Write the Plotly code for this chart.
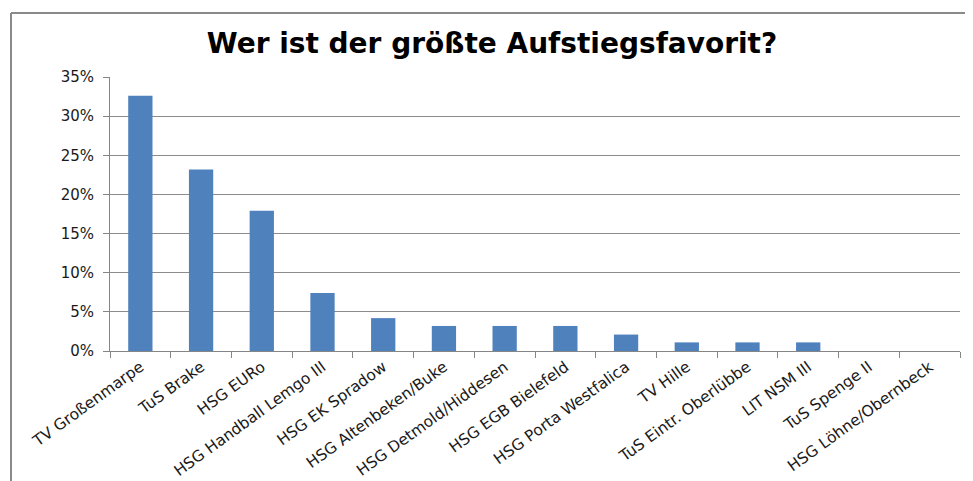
import plotly.graph_objects as go

categories = ["TV Großenmarpe", "TuS Brake", "HSG EURo", "HSG Handball Lemgo III",
              "HSG EK Spradow", "HSG Altenbeken/Buke", "HSG Detmold/Hiddesen",
              "HSG EGB Bielefeld", "HSG Porta Westfalica", "TV Hille",
              "TuS Eintr. Oberlübbe", "LIT NSM III", "TuS Spenge II", "HSG Löhne/Obernbeck"]
values = [0.326, 0.232, 0.179, 0.074, 0.042, 0.032, 0.032, 0.032, 0.021, 0.011, 0.011, 0.011, 0.0, 0.0]
y_ticks = [0, 0.05, 0.10, 0.15, 0.20, 0.25, 0.30, 0.35]
y_labels = ["0%", "5%", "10%", "15%", "20%", "25%", "30%", "35%"]

font = "DejaVu Sans, sans-serif"

fig = go.Figure(go.Bar(x=categories, y=values, marker=dict(color="#4F81BD", line=dict(width=0)),
                       hoverinfo="x+y"))

# page body has an 8px margin: target pixel positions are shifted by OFF
OFF = 8
W, H = 973, 481
L, R, T, B = 110 - OFF, 13 + OFF, 77 - OFF, 130 + OFF
pw, ph = W - L - R, H - T - B

def px_x(x):
    return (x - OFF - L) / pw

def px_y(y):
    return (H - B - (y - OFF)) / ph

fig.update_layout(
    width=W, height=H,
    margin=dict(l=L, r=R, t=T, b=B, autoexpand=False),
    paper_bgcolor="white", plot_bgcolor="white",
    bargap=0.6,
    showlegend=False,
    title=dict(text="<b>Wer ist der größte Aufstiegsfavorit?</b>", x=(492 - OFF) / W, xanchor="center",
               y=1 - (43 - OFF) / H, yanchor="middle",
               font=dict(family=font, size=28, color="#000000")),
    xaxis=dict(type="category", tickangle=-36, tickson="boundaries", ticks="outside", ticklen=6,
               tickcolor="#868686", showline=True, linecolor="#868686", linewidth=1,
               showgrid=False, automargin=False,
               tickfont=dict(family=font, size=15.5, color="#1a1a1a")),
    yaxis=dict(range=[0, 0.35], tickvals=y_ticks, ticktext=y_labels, ticks="outside", ticklen=6,
               tickcolor="#868686", showline=True, linecolor="#868686", linewidth=1,
               showgrid=True, gridcolor="#8c8c8c", gridwidth=1, zeroline=False,
               automargin=False, ticklabelstandoff=6,
               tickfont=dict(family=font, size=15, color="#1a1a1a")),
    shapes=[
        dict(type="line", xref="paper", yref="paper", x0=px_x(11), x1=px_x(990),
             y0=px_y(13), y1=px_y(13), line=dict(color="#8a8a8a", width=2)),
        dict(type="line", xref="paper", yref="paper", x0=px_x(11), x1=px_x(11),
             y0=px_y(13), y1=px_y(500), line=dict(color="#8a8a8a", width=2)),
    ],
)

fig.write_html("out.html")
